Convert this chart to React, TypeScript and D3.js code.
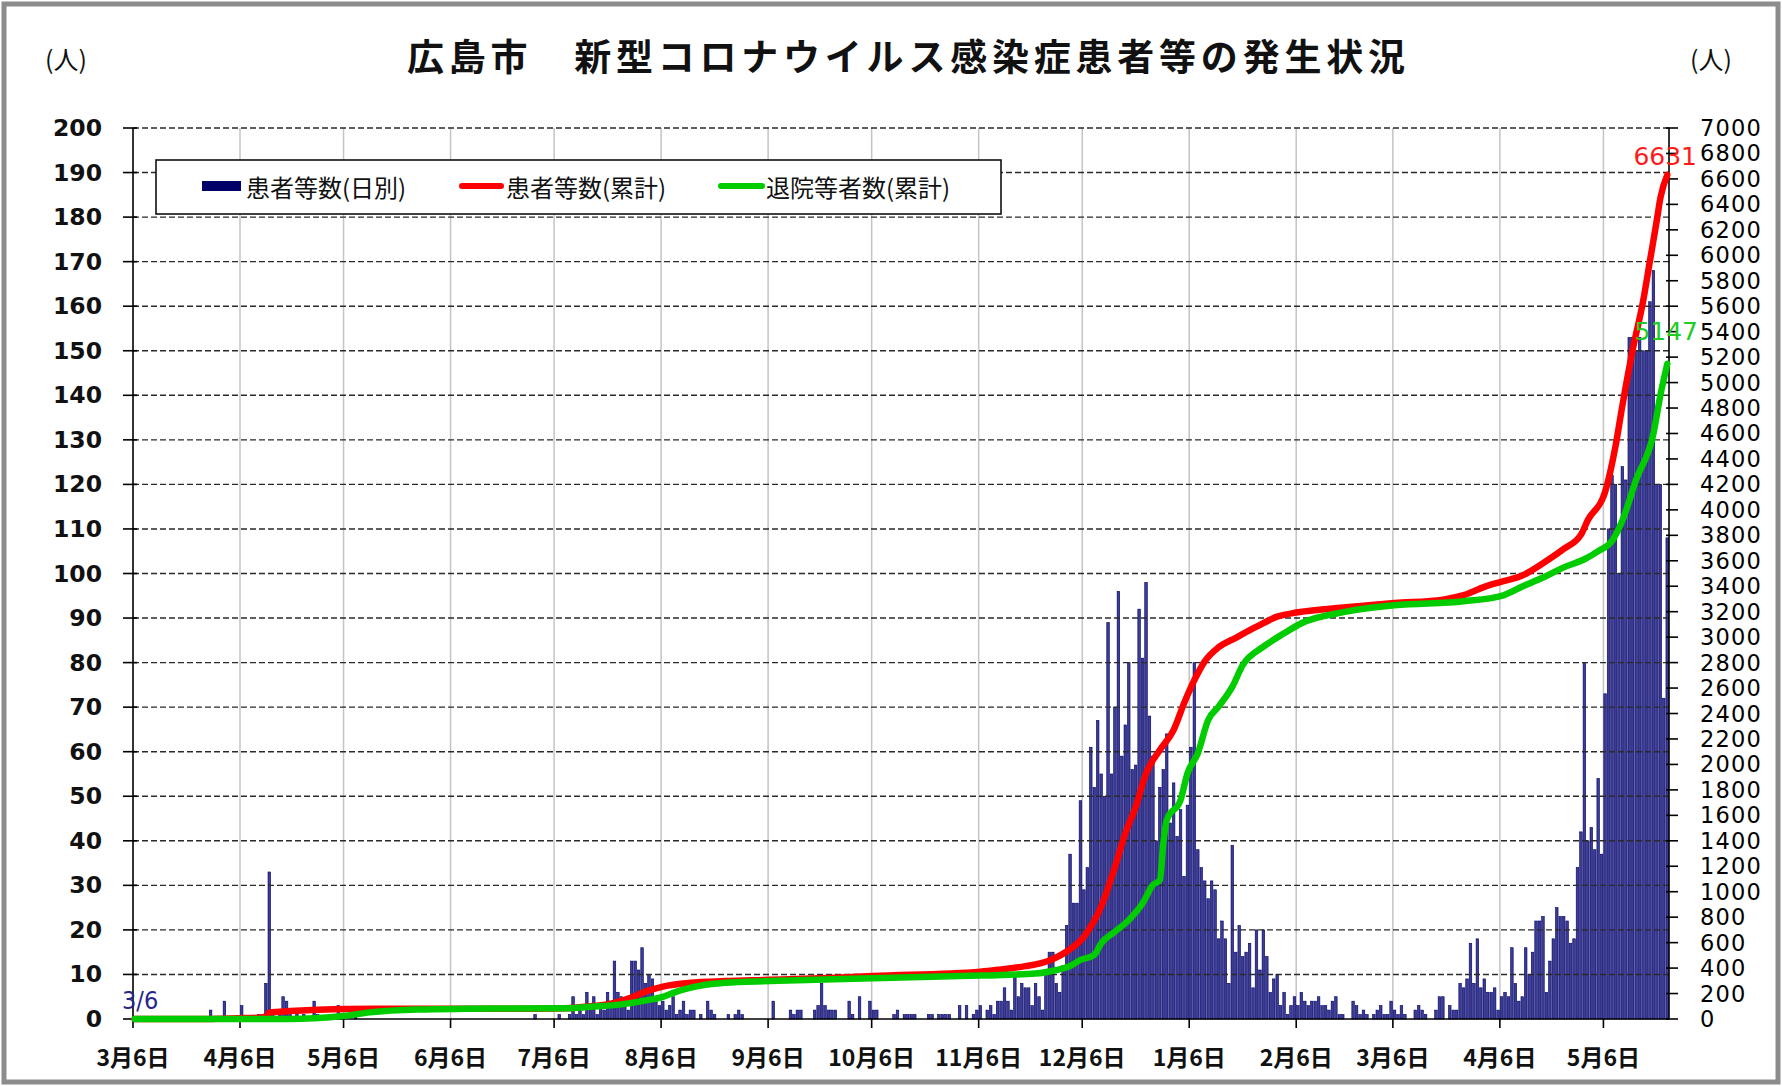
import * as d3 from 'd3'
import { useRef, useEffect } from 'react'

// daily new patients, one array per month (first = 2020/3/6 .. 3/31, last = 2021/5/1 .. 5/24)
const daily2020Mar = [0,0,0,0,0,0,0,0,0,0,0,0,0,0,0,0,0,0,0,0,0,0,2,0,0,0]
const daily2020Apr = [4,0,0,0,0,3,0,0,0,0,1,0,8,33,1,0,1,5,4,1,0,2,0,1,0,0,4,1,0,0]
const daily2020May = [0,1,0,3,1,0,0,0,1,0,0,0,0,0,0,0,0,0,0,0,0,0,0,0,0,0,0,0,0,0,0]
const daily2020Jun = [0,0,0,0,0,0,0,0,0,0,0,0,0,0,0,0,0,0,0,0,0,0,0,0,0,0,0,0,0,1]
const daily2020Jul = [0,0,0,0,0,0,1,0,0,1,5,1,2,1,6,2,5,1,3,2,6,4,13,6,5,4,2,13,13,11,16]
const daily2020Aug = [8,10,9,5,3,4,2,3,5,1,2,4,1,2,2,0,1,0,4,2,1,0,0,0,1,0,1,2,1,0,0]
const daily2020Sep = [0,0,0,0,0,0,4,0,0,0,0,2,1,2,2,0,0,0,2,3,8,3,2,2,2,0,0,0,4,1]
const daily2020Oct = [0,5,0,0,4,2,2,0,0,0,0,1,2,0,1,1,1,1,0,0,0,1,1,0,1,1,1,1,0,0,3]
const daily2020Nov = [0,3,0,1,2,3,0,2,3,1,4,4,7,4,2,10,5,8,7,7,3,8,5,2,10,15,15,8,6,12]
const daily2020Dec = [21,37,26,26,49,29,34,61,52,67,55,50,89,55,70,96,59,66,80,56,57,92,81,98,68,59,40,52,56,64,44]
const daily2021Jan = [53,41,47,32,48,61,80,38,34,31,27,31,29,18,22,18,8,39,15,21,14,15,17,7,20,11,20,14,6,9,10]
const daily2021Feb = [3,6,1,3,5,3,6,4,3,4,4,5,3,3,2,4,5,1,1,0,0,4,3,1,2,1,0,1]
const daily2021Mar = [2,3,1,1,4,2,1,3,1,0,0,2,3,2,1,0,0,2,5,5,0,3,2,2,8,7,9,17,8,18,7]
const daily2021Apr = [9,6,6,7,2,5,6,5,16,8,4,5,16,10,15,22,22,23,6,13,18,25,23,23,22,17,18,34,42,80]
const daily2021May = [40,43,38,54,37,73,110,122,120,100,124,121,153,153,150,153,150,150,161,168,120,120,72,108]

// cumulative patients
const casesCum: [string, number][] = [
  ['2020-03-06', 0], ['2020-03-27', 0], ['2020-03-31', 2], ['2020-04-05', 6], ['2020-04-11', 10],
  ['2020-04-13', 18], ['2020-04-14', 52], ['2020-04-20', 62], ['2020-04-28', 72], ['2020-05-06', 78],
  ['2020-05-20', 80], ['2020-06-30', 81], ['2020-07-09', 84], ['2020-07-15', 98], ['2020-07-22', 120],
  ['2020-07-27', 160], ['2020-08-01', 215], ['2020-08-06', 255], ['2020-08-14', 285], ['2020-08-24', 298],
  ['2020-09-06', 308], ['2020-09-25', 325], ['2020-10-06', 338], ['2020-11-06', 372], ['2020-11-12', 390],
  ['2020-11-19', 415], ['2020-11-26', 460], ['2020-12-01', 530], ['2020-12-06', 647], ['2020-12-11', 883],
  ['2020-12-15', 1197], ['2020-12-18', 1459], ['2020-12-21', 1668], ['2020-12-24', 1930], ['2020-12-28', 2113],
  ['2021-01-01', 2271], ['2021-01-04', 2480], ['2021-01-07', 2663], ['2021-01-10', 2810], ['2021-01-14', 2920],
  ['2021-01-19', 2995], ['2021-01-25', 3082], ['2021-01-31', 3161], ['2021-02-06', 3195], ['2021-02-20', 3235],
  ['2021-03-06', 3268], ['2021-03-20', 3295], ['2021-03-26', 3330], ['2021-04-01', 3395], ['2021-04-06', 3436],
  ['2021-04-12', 3484], ['2021-04-18', 3581], ['2021-04-24', 3693], ['2021-04-29', 3805], ['2021-05-01', 3920],
  ['2021-05-06', 4142], ['2021-05-09', 4500], ['2021-05-11', 4820], ['2021-05-14', 5260], ['2021-05-17', 5640],
  ['2021-05-19', 5960], ['2021-05-21', 6280], ['2021-05-22', 6450], ['2021-05-24', 6631],
]

// cumulative discharged (green line)
const dischargedCum: [string, number][] = [
  ['2020-03-06', 0], ['2020-04-20', 0], ['2020-04-27', 5], ['2020-05-06', 25], ['2020-05-13', 52],
  ['2020-05-27', 75], ['2020-06-10', 80], ['2020-07-10', 84], ['2020-07-15', 94], ['2020-07-25', 115],
  ['2020-08-02', 150], ['2020-08-06', 173], ['2020-08-10', 215], ['2020-08-17', 262], ['2020-08-24', 284],
  ['2020-09-06', 298], ['2020-10-06', 320], ['2020-11-06', 341], ['2020-11-22', 357], ['2020-11-28', 385],
  ['2020-12-02', 416], ['2020-12-05', 464], ['2020-12-09', 503], ['2020-12-11', 595], ['2020-12-15', 686],
  ['2020-12-19', 778], ['2020-12-23', 909], ['2020-12-26', 1053], ['2020-12-28', 1092], ['2020-12-29', 1380],
  ['2020-12-30', 1563], ['2021-01-03', 1721], ['2021-01-05', 1930], ['2021-01-08', 2088], ['2021-01-11', 2349],
  ['2021-01-14', 2454], ['2021-01-18', 2611], ['2021-01-21', 2780], ['2021-01-27', 2925], ['2021-02-02', 3030],
  ['2021-02-07', 3109], ['2021-02-20', 3200], ['2021-03-06', 3250], ['2021-03-26', 3282], ['2021-04-06', 3324],
  ['2021-04-12', 3398], ['2021-04-18', 3468], ['2021-04-24', 3548], ['2021-04-30', 3612], ['2021-05-04', 3676],
  ['2021-05-08', 3757], ['2021-05-11', 3917], ['2021-05-15', 4239], ['2021-05-20', 4600], ['2021-05-22', 4900],
  ['2021-05-24', 5147],
]

const monthTicks = ['2020-03-06','2020-04-06','2020-05-06','2020-06-06','2020-07-06','2020-08-06','2020-09-06',
  '2020-10-06','2020-11-06','2020-12-06','2021-01-06','2021-02-06','2021-03-06','2021-04-06','2021-05-06']
const monthLabels = ['3月6日','4月6日','5月6日','6月6日','7月6日','8月6日','9月6日','10月6日','11月6日',
  '12月6日','1月6日','2月6日','3月6日','4月6日','5月6日']

const startDate = '2020-03-06'
const endDate = '2021-05-25'
const title = '広島市　新型コロナウイルス感染症患者等の発生状況'
const legendLabels = ['患者等数(日別)', '患者等数(累計)', '退院等者数(累計)']

const NUM_FONT = "'DejaVu Sans', Verdana, sans-serif"
const JP_FONT = "'Noto Sans CJK JP', 'Noto Sans', sans-serif"

export default function App(){
    const svgRef = useRef<SVGSVGElement>(null)
    useEffect(()=>{
        const width = 1782, height = 1086
        const left = 133, right = 1669, top = 128, bottom = 1019
        const parse = d3.utcParse('%Y-%m-%d')

        const svg = d3.select(svgRef.current)
        svg.selectAll('*').remove()

        svg.append('rect').attr('width', width).attr('height', height).attr('fill', '#fff')
        svg.append('rect')
            .attr('x', 4).attr('y', 4).attr('width', width - 8).attr('height', height - 8)
            .attr('fill', 'none').attr('stroke', '#8c8c8c').attr('stroke-width', 5)

        const daily = [daily2020Mar, daily2020Apr, daily2020May, daily2020Jun, daily2020Jul, daily2020Aug,
            daily2020Sep, daily2020Oct, daily2020Nov, daily2020Dec, daily2021Jan, daily2021Feb,
            daily2021Mar, daily2021Apr, daily2021May].flat()
        const start = parse(startDate)!
        const bars = daily.map((v, i) => ({ date: d3.utcDay.offset(start, i), value: v }))

        const xScale = d3.scaleUtc().domain([start, parse(endDate)!]).range([left, right])
        const yLeft = d3.scaleLinear().domain([0, 200]).range([bottom, top])
        const yRight = d3.scaleLinear().domain([0, 7000]).range([bottom, top])
        const slot = xScale(d3.utcDay.offset(start, 1)) - xScale(start)

        // vertical month gridlines
        svg.append('g').selectAll('line')
            .data(monthTicks.slice(1))
            .join('line')
            .attr('x1', d => xScale(parse(d)!)).attr('x2', d => xScale(parse(d)!))
            .attr('y1', top).attr('y2', bottom)
            .attr('stroke', '#c4c4c4').attr('stroke-width', 1.5)

        // daily bars
        svg.append('g').selectAll('rect')
            .data(bars.filter(d => d.value > 0))
            .join('rect')
            .attr('x', d => xScale(d.date) + 0.4)
            .attr('width', slot - 0.9)
            .attr('y', d => yLeft(d.value))
            .attr('height', d => bottom - yLeft(d.value))
            .attr('fill', '#3c3c92')
            .attr('stroke', '#00006a')
            .attr('stroke-width', 0.6)

        // dashed horizontal gridlines
        svg.append('g').selectAll('line')
            .data(d3.range(10, 201, 10))
            .join('line')
            .attr('x1', left).attr('x2', right)
            .attr('y1', d => yLeft(d)).attr('y2', d => yLeft(d))
            .attr('stroke', '#2a2a2a').attr('stroke-width', 1.4)
            .attr('stroke-dasharray', '6,3')

        // axes
        const axisG = svg.append('g').attr('stroke', '#000').attr('stroke-width', 1.6)
        axisG.append('line').attr('x1', left).attr('x2', left).attr('y1', top).attr('y2', bottom)
        axisG.append('line').attr('x1', right).attr('x2', right).attr('y1', top).attr('y2', bottom)
        axisG.append('line').attr('x1', left).attr('x2', right).attr('y1', bottom).attr('y2', bottom)
        axisG.selectAll('.lt').data(yLeft.ticks(20)).join('line').attr('class', 'lt')
            .attr('x1', left - 10).attr('x2', left + 4)
            .attr('y1', d => yLeft(d)).attr('y2', d => yLeft(d))
        axisG.selectAll('.rt').data(d3.range(0, 7001, 200)).join('line').attr('class', 'rt')
            .attr('x1', right - 3).attr('x2', right + 9)
            .attr('y1', d => yRight(d)).attr('y2', d => yRight(d))
        axisG.selectAll('.bt').data(monthTicks).join('line').attr('class', 'bt')
            .attr('x1', d => xScale(parse(d)!)).attr('x2', d => xScale(parse(d)!))
            .attr('y1', bottom).attr('y2', bottom + 9)

        svg.append('g').selectAll('text')
            .data(yLeft.ticks(20))
            .join('text')
            .attr('x', 102).attr('y', d => yLeft(d))
            .attr('text-anchor', 'end').attr('dominant-baseline', 'central')
            .attr('font-family', NUM_FONT).attr('font-weight', 'bold').attr('font-size', 23.5)
            .attr('fill', '#111')
            .text(d => d)

        svg.append('g').selectAll('text')
            .data(d3.range(0, 7001, 200))
            .join('text')
            .attr('x', 1700).attr('y', d => yRight(d))
            .attr('dominant-baseline', 'central')
            .attr('font-family', NUM_FONT).attr('font-size', 22.5).attr('letter-spacing', 1.2)
            .attr('fill', '#000')
            .text(d => d)

        svg.append('g').selectAll('text')
            .data(monthTicks)
            .join('text')
            .attr('x', d => xScale(parse(d)!)).attr('y', 1056)
            .attr('text-anchor', 'middle').attr('dominant-baseline', 'central')
            .attr('font-family', JP_FONT).attr('font-weight', 'bold').attr('font-size', 23)
            .attr('fill', '#111')
            .text((d, i) => monthLabels[i])

        // cumulative lines
        const lineGenerator = d3.line<[string, number]>()
            .x(d => xScale(parse(d[0])!) + slot / 2)
            .y(d => yRight(d[1]))
            .curve(d3.curveMonotoneX)
        svg.append('path')
            .attr('d', lineGenerator(casesCum))
            .attr('fill', 'none').attr('stroke', '#ff0000').attr('stroke-width', 6.5)
            .attr('stroke-linejoin', 'round').attr('stroke-linecap', 'round')
        svg.append('path')
            .attr('d', lineGenerator(dischargedCum))
            .attr('fill', 'none').attr('stroke', '#00cc00').attr('stroke-width', 6.5)
            .attr('stroke-linejoin', 'round').attr('stroke-linecap', 'round')

        // end labels
        const lastCase = casesCum[casesCum.length - 1]
        const lastDis = dischargedCum[dischargedCum.length - 1]
        svg.append('text')
            .attr('x', 1697).attr('y', yRight(lastCase[1]) - 10)
            .attr('text-anchor', 'end')
            .attr('font-family', NUM_FONT).attr('font-size', 25).attr('fill', '#ff1a1a')
            .text(lastCase[1])
        svg.append('text')
            .attr('x', 1698).attr('y', yRight(lastDis[1]) - 24)
            .attr('text-anchor', 'end')
            .attr('font-family', NUM_FONT).attr('font-size', 25).attr('fill', '#1fcc1f')
            .text(lastDis[1])
        svg.append('text')
            .attr('x', 122).attr('y', 1009)
            .attr('font-family', "'DejaVu Sans Condensed', 'DejaVu Sans', sans-serif")
            .attr('font-size', 25).attr('fill', '#26268c')
            .text('3/6')

        // title and unit labels
        svg.append('text')
            .attr('x', 906).attr('y', 71)
            .attr('text-anchor', 'middle')
            .attr('font-family', JP_FONT).attr('font-weight', 'bold').attr('font-size', 37)
            .attr('textLength', 998).attr('lengthAdjust', 'spacing')
            .attr('fill', '#111')
            .text(title)
        ;[66, 1711].forEach(x => {
            svg.append('text')
                .attr('x', x).attr('y', 58)
                .attr('text-anchor', 'middle').attr('dominant-baseline', 'central')
                .attr('font-family', JP_FONT).attr('font-size', 25).attr('fill', '#111')
                .text('(人)')
        })

        // legend
        const legend = svg.append('g')
        legend.append('rect')
            .attr('x', 156).attr('y', 160).attr('width', 845).attr('height', 54)
            .attr('fill', '#fff').attr('stroke', '#111').attr('stroke-width', 1.6)
        legend.append('rect')
            .attr('x', 202).attr('y', 181).attr('width', 39).attr('height', 10)
            .attr('fill', '#000066')
        legend.append('line')
            .attr('x1', 462).attr('x2', 501).attr('y1', 186).attr('y2', 186)
            .attr('stroke', '#ff0000').attr('stroke-width', 6).attr('stroke-linecap', 'round')
        legend.append('line')
            .attr('x1', 721).attr('x2', 762).attr('y1', 186).attr('y2', 186)
            .attr('stroke', '#00cc00').attr('stroke-width', 6).attr('stroke-linecap', 'round')
        legend.selectAll('text')
            .data(legendLabels)
            .join('text')
            .attr('x', (d, i) => [246, 506, 766][i]).attr('y', 186)
            .attr('dominant-baseline', 'central')
            .attr('font-family', JP_FONT).attr('font-size', 24).attr('fill', '#111')
            .text(d => d)
    },[])
    return (
        <svg ref={svgRef} width={1782} height={1086}
            style={{ position: 'absolute', left: 0, top: 0, display: 'block' }}></svg>
    )
}
